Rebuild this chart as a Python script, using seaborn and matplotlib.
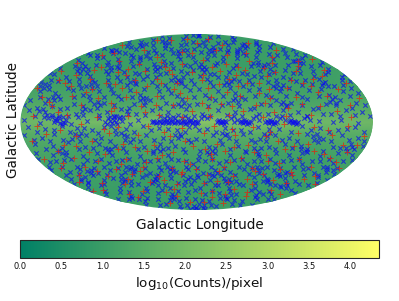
import numpy as np
import pandas as pd
import seaborn as sns
import matplotlib.pyplot as plt

# background map, log10 counts per pixel, read by eye
map_lon = [-180, -150, -120, -90, -60, -30, 0, 30, 60, 90, 120, 150, 180]
map_lat = [-90, -75, -60, -45, -30, -20, -10, -5, 0, 5, 10, 20, 30, 45, 60, 75, 90]
map_val = [
    [1.0, 1.0, 1.0, 1.0, 1.0, 1.0, 1.0, 1.0, 1.0, 1.0, 1.0, 1.0, 1.0],
    [1.0, 1.0, 1.0, 1.0, 1.0, 1.0, 1.0, 1.0, 1.0, 1.0, 1.0, 1.0, 1.0],
    [1.0, 1.0, 1.0, 1.0, 1.0, 1.1, 1.0, 1.0, 1.0, 1.0, 1.0, 1.0, 1.0],
    [1.1, 1.1, 1.1, 1.0, 1.0, 1.1, 1.1, 1.1, 1.0, 1.0, 1.0, 1.1, 1.1],
    [1.2, 1.2, 1.1, 1.1, 1.2, 1.2, 1.2, 1.2, 1.1, 1.1, 1.1, 1.1, 1.2],
    [1.3, 1.3, 1.2, 1.2, 1.3, 1.3, 1.3, 1.3, 1.3, 1.2, 1.2, 1.3, 1.3],
    [1.5, 1.5, 1.4, 1.4, 1.5, 1.6, 1.6, 1.6, 1.5, 1.5, 1.4, 1.5, 1.5],
    [1.7, 1.7, 1.7, 1.7, 1.8, 1.9, 1.9, 1.9, 1.9, 1.8, 1.7, 1.7, 1.7],
    [1.9, 1.9, 2.0, 2.0, 2.1, 2.2, 2.4, 2.2, 2.1, 2.0, 1.9, 1.9, 1.9],
    [1.7, 1.7, 1.7, 1.7, 1.8, 1.9, 1.9, 1.9, 1.8, 1.8, 1.7, 1.7, 1.7],
    [1.5, 1.5, 1.4, 1.4, 1.5, 1.6, 1.6, 1.6, 1.5, 1.5, 1.4, 1.5, 1.5],
    [1.3, 1.3, 1.2, 1.2, 1.3, 1.4, 1.4, 1.4, 1.3, 1.2, 1.2, 1.3, 1.3],
    [1.2, 1.1, 1.1, 1.1, 1.2, 1.2, 1.3, 1.2, 1.2, 1.1, 1.1, 1.1, 1.2],
    [1.1, 1.0, 1.0, 1.0, 1.1, 1.1, 1.1, 1.1, 1.0, 1.0, 1.0, 1.0, 1.1],
    [1.0, 1.0, 1.0, 1.0, 1.0, 1.0, 1.0, 1.0, 1.0, 1.0, 1.0, 1.0, 1.0],
    [1.0, 1.0, 1.0, 1.0, 1.0, 1.0, 1.0, 1.0, 1.0, 1.0, 1.0, 1.0, 1.0],
    [1.0, 1.0, 1.0, 1.0, 1.0, 1.0, 1.0, 1.0, 1.0, 1.0, 1.0, 1.0, 1.0],
]

# sources, (lon, lat) in degrees
blue_north = [
    (-150, 84), (-20, 86), (8, 85), (14, 86), (95, 84), (20, 87),
    (-170, 76), (-120, 78), (-75, 75), (-40, 79), (-10, 76), (30, 78), (70, 75), (110, 79), (150, 76),
    (-175, 68), (-140, 70), (-112, 67), (-90, 71), (-60, 68), (-33, 72), (-5, 67), (18, 70), (44, 67), (66, 71), (92, 68), (125, 70), (160, 67),
    (-178, 62), (-158, 60), (-130, 63), (-104, 60), (-82, 63), (-55, 60), (-38, 62), (-14, 60), (7, 63), (28, 60), (52, 63), (79, 60), (101, 63), (128, 60), (146, 62), (171, 60),
    (-172, 55), (-149, 57), (-125, 53), (-116, 56), (-93, 54), (-70, 57), (-47, 54), (-24, 56), (-2, 53), (15, 56), (38, 54), (60, 57), (86, 53), (113, 56), (137, 54), (158, 57), (176, 53),
    (-177, 47), (-162, 49), (-139, 46), (-121, 50), (-101, 47), (-85, 49), (-64, 46), (-42, 50), (-30, 47), (-9, 49), (12, 46), (25, 50), (47, 47), (72, 49), (94, 46), (106, 50), (133, 47), (152, 49), (169, 46),
    (-174, 41), (-155, 38), (-143, 42), (-127, 39), (-108, 41), (-94, 38), (-76, 42), (-59, 39), (-44, 41), (-26, 38), (-12, 42), (4, 39), (21, 41), (35, 38), (56, 42), (69, 39), (88, 41), (103, 38), (119, 42), (140, 39), (156, 41), (173, 38),
    (-179, 34), (-166, 31), (-147, 35), (-133, 32), (-117, 34), (-99, 31), (-88, 35), (-68, 32), (-51, 34), (-36, 31), (-18, 35), (-3, 32), (16, 34), (31, 31), (49, 35), (63, 32), (82, 34), (97, 31), (115, 35), (131, 32), (148, 34), (165, 31), (178, 35),
    (-171, 26), (-153, 24), (-136, 27), (-122, 23), (-106, 26), (-90, 24), (-73, 27), (-61, 23), (-41, 26), (-28, 24), (-7, 27), (9, 23), (24, 26), (42, 24), (58, 27), (75, 23), (91, 26), (109, 24), (124, 27), (143, 23), (160, 26), (175, 24),
    (-176, 18), (-159, 16), (-144, 19), (-128, 15), (-112, 18), (-97, 16), (-80, 19), (-65, 15), (-49, 18), (-32, 16), (-15, 19), (1, 15), (19, 18), (33, 16), (51, 19), (67, 15), (84, 18), (99, 16), (117, 19), (135, 15), (151, 18), (167, 16),
    (-173, 10), (-156, 8), (-141, 11), (-124, 7), (-110, 10), (-92, 8), (-78, 11), (-62, 7), (-46, 10), (-29, 8), (-11, 11), (6, 7), (22, 10), (40, 8), (55, 11), (73, 7), (89, 10), (104, 8), (121, 11), (138, 7), (154, 10), (170, 8),
]
blue_north_more = [
    (-100, 82), (-45, 84), (55, 83), (140, 83), (-135, 75), (-92, 77), (-24, 73), (15, 75), (49, 74), (92, 76), (132, 73), (178, 74),
    (-155, 66), (-128, 69), (-74, 65), (-48, 67), (-18, 66), (5, 72), (33, 69), (56, 65), (80, 67), (110, 65), (143, 69), (178, 67),
    (-168, 60), (-143, 58), (-118, 62), (-96, 58), (-66, 62), (-28, 59), (-6, 58), (18, 61), (41, 58), (65, 61), (90, 58), (117, 61), (138, 58), (160, 61),
    (-158, 52), (-135, 50), (-108, 52), (-80, 52), (-58, 51), (-36, 52), (-15, 50), (6, 51), (29, 52), (53, 50), (78, 52), (97, 51), (123, 50), (147, 52), (166, 50),
    (-180, 42), (-150, 44), (-135, 42), (-114, 44), (-90, 43), (-70, 41), (-52, 44), (-37, 42), (-20, 44), (-4, 45), (9, 43), (17, 41), (40, 43), (62, 41), (80, 44), (96, 43), (112, 45), (127, 42), (146, 44), (163, 43), (180, 41),
    (-170, 36), (-160, 35), (-138, 37), (-122, 36), (-103, 36), (-82, 38), (-63, 37), (-48, 38), (-30, 36), (-16, 38), (-6, 36), (12, 37), (26, 38), (44, 37), (61, 36), (76, 38), (93, 36), (110, 37), (127, 36), (144, 37), (170, 36),
    (-163, 28), (-143, 29), (-128, 29), (-111, 30), (-94, 28), (-78, 31), (-58, 28), (-44, 30), (-32, 28), (-13, 30), (3, 28), (18, 30), (37, 29), (52, 30), (69, 28), (86, 30), (103, 29), (119, 31), (137, 28), (154, 30), (172, 29),
    (-167, 21), (-148, 22), (-131, 21), (-115, 22), (-99, 21), (-84, 22), (-69, 21), (-54, 20), (-37, 21), (-21, 22), (-3, 21), (13, 20), (28, 22), (47, 21), (63, 22), (80, 21), (96, 22), (113, 21), (131, 22), (148, 21), (165, 22),
    (-180, 14), (-165, 12), (-150, 13), (-134, 12), (-118, 13), (-103, 12), (-86, 14), (-70, 12), (-55, 14), (-38, 12), (-24, 13), (-8, 14), (12, 13), (27, 14), (44, 13), (60, 12), (77, 14), (93, 13), (110, 14), (126, 12), (145, 14), (161, 12), (176, 14),
    (-166, 5), (-148, 6), (-132, 5), (-116, 6), (-100, 6), (-85, 5), (-70, 7), (-53, 6), (-37, 5), (-19, 6), (-3, 5), (14, 5), (31, 6), (47, 5), (64, 7), (81, 5), (96, 6), (113, 5), (130, 7), (147, 5), (163, 6), (178, 5),
]
blue_north_clumps = [
    (-118, 71), (-113, 73), (-109, 70), (-68, 72), (-64, 74), (23, 66), (27, 64), (31, 66), (97, 72), (102, 70), (106, 73),
    (-145, 64), (-141, 65), (-137, 62), (-86, 58), (-83, 56), (-79, 59), (-31, 64), (-28, 62), (-25, 66), (68, 63), (72, 65), (76, 62),
    (-152, 47), (-148, 49), (-145, 46), (-112, 48), (-108, 45), (-105, 48), (-55, 48), (-51, 46), (-48, 48), (3, 48), (7, 46), (10, 48), (83, 50), (87, 48), (91, 50), (140, 54), (143, 52), (147, 55),
    (-175, 30), (-172, 32), (-169, 29), (-124, 30), (-120, 32), (-116, 29), (-76, 34), (-73, 36), (-70, 33), (-24, 34), (-21, 36), (-18, 33), (34, 34), (37, 32), (40, 35), (88, 29), (91, 32), (94, 29), (141, 31), (144, 33), (147, 30),
    (-157, 19), (-153, 21), (-150, 18), (-107, 15), (-104, 17), (-101, 14), (-60, 18), (-57, 20), (-54, 17), (-19, 15), (-16, 13), (-13, 16), (38, 18), (41, 20), (44, 17), (88, 15), (91, 17), (94, 14), (140, 17), (143, 19), (146, 16),
    (-162, 9), (-159, 11), (-156, 4), (-153, 6), (-121, 4), (-118, 9), (-115, 11), (-75, 4), (-72, 9), (-33, 3), (-30, 5), (-27, 3), (-24, 4), (-15, 3), (-12, 5), (-9, 3), (5, 3), (8, 5), (11, 3), (35, 3), (38, 5), (41, 2), (58, 3), (61, 5), (64, 2), (85, 3), (88, 5), (91, 2), (110, 3), (113, 5), (116, 2), (-148, 4), (-144, 3), (-141, 5), (-137, 4),
]
blue_plane = [
    (-176, 2), (-160, -1), (-152, 3), (-146, 0), (-143, 1), (-140, -1), (-137, 0), (-134, 2), (-128, -2), (-112, 1), (-100, 3),
    (-94, 0), (-91, 3), (-88, 1), (-86, -1), (-84, 2), (-82, 0), (-79, 3), (-76, 1), (-68, -2), (-60, 2),
    (-46, 0), (-43, 0), (-40, 0), (-37, 0), (-34, 0), (-31, 0), (-28, 0), (-25, 0), (-22, 0), (-19, 0), (-16, 0), (-13, 0), (-10, 0), (-7, 0), (-4, 0), (-1, 0), (2, 0), (-30, 2), (-12, -2), (-6, 2),
    (21, 0), (24, 0), (27, 0), (30, 0), (23, 2), (28, -2), (26, 1), (38, 0), (44, 0), (47, 0), (50, 0), (53, 0), (56, 0), (49, 2), (52, -2), (70, 0), (73, 0), (76, 0), (79, 0), (82, 0), (75, 2), (78, -2),
    (95, 0), (98, 0), (101, 0), (104, 0), (97, 2), (102, -2), (125, 1), (140, 0), (148, 2), (165, -1), (-22, 3), (-2, -3),
    (-45, 1), (-41, -1), (-38, 1), (-35, -1), (-33, 1), (-29, -1), (-26, 1), (-23, -1), (-20, 1), (-17, -1), (-14, 1), (-11, -1), (-8, 1), (-5, -1), (-2, 1), (1, -1),
    (22, 1), (25, -1), (29, 1), (46, 1), (48, -1), (51, 1), (54, -1), (72, 1), (74, -1), (77, 1), (80, -1), (96, 1), (99, -1), (100, 1), (103, -1),
    (-145, 2), (-141, 3), (-138, -2), (-135, -1), (-92, -2), (-89, 4), (-85, 4), (-81, -2), (-78, 4), (-83, 5), (-88, -3),
]
blue_south = [
    (-173, -4), (-155, -6), (-138, -3), (-122, -5), (-107, -7), (-95, -4), (-72, -6), (-55, -3), (-38, -5), (-20, -7), (-8, -4), (11, -6), (29, -5), (46, -7), (63, -4), (85, -6), (108, -3), (127, -5), (145, -7), (162, -4),
    (-178, -11), (-161, -13), (-147, -10), (-130, -14), (-114, -11), (-99, -13), (-83, -10), (-66, -14), (-52, -11), (-35, -13), (-17, -10), (-1, -14), (17, -11), (34, -13), (48, -10), (66, -14), (81, -11), (96, -13), (114, -10), (132, -14), (150, -11), (168, -13),
    (-170, -18), (-152, -20), (-135, -17), (-119, -21), (-103, -18), (-87, -20), (-70, -17), (-56, -21), (-39, -18), (-23, -20), (-6, -17), (13, -21), (27, -18), (44, -20), (61, -17), (77, -21), (93, -18), (111, -20), (128, -17), (146, -21), (163, -18), (177, -20),
    (-175, -26), (-158, -28), (-142, -25), (-126, -29), (-109, -26), (-93, -28), (-77, -25), (-63, -29), (-48, -26), (-31, -28), (-13, -25), (3, -29), (20, -26), (37, -28), (54, -25), (70, -29), (87, -26), (102, -28), (120, -25), (137, -29), (155, -26), (172, -28),
    (-168, -34), (-150, -32), (-132, -36), (-116, -33), (-101, -35), (-84, -32), (-69, -36), (-53, -33), (-37, -35), (-21, -32), (-4, -36), (10, -33), (26, -35), (43, -32), (59, -36), (74, -33), (91, -35), (107, -32), (123, -36), (141, -33), (158, -35), (176, -32),
    (-177, -41), (-157, -43), (-140, -40), (-124, -44), (-105, -41), (-89, -43), (-74, -40), (-58, -44), (-43, -41), (-25, -43), (-10, -40), (8, -44), (23, -41), (41, -43), (57, -40), (78, -44), (94, -41), (112, -43), (129, -40), (147, -44), (166, -41),
    (-169, -50), (-146, -48), (-127, -51), (-111, -49), (-91, -52), (-72, -48), (-54, -51), (-34, -49), (-16, -52), (2, -48), (19, -51), (36, -49), (55, -52), (76, -48), (98, -51), (118, -49), (136, -52), (159, -48), (178, -51),
    (-165, -58), (-141, -56), (-118, -59), (-96, -56), (-79, -59), (-57, -56), (-41, -59), (-19, -56), (5, -59), (32, -56), (50, -59), (68, -56), (90, -59), (116, -56), (139, -59), (164, -56),
    (-160, -65), (-129, -63), (-98, -66), (-67, -64), (-45, -66), (-15, -63), (16, -66), (39, -64), (71, -66), (105, -63), (134, -66), (170, -64),
    (-145, -72), (-100, -70), (-60, -73), (-22, -70), (12, -73), (48, -70), (83, -73), (126, -71), (168, -72),
    (-150, -79), (-85, -78), (-30, -80), (6, -78), (45, -80), (100, -78), (175, -80),
    (-40, -86), (-4, -85), (10, -87), (30, -85),
]
blue_south_more = [
    (-164, -8), (-146, -7), (-130, -8), (-115, -5), (-101, -9), (-84, -7), (-64, -8), (-47, -7), (-29, -6), (-12, -8), (3, -7), (20, -8), (38, -7), (55, -8), (74, -6), (97, -8), (118, -7), (136, -8), (154, -6), (172, -8),
    (-170, -15), (-154, -16), (-139, -15), (-122, -16), (-106, -15), (-91, -16), (-75, -15), (-59, -16), (-44, -15), (-27, -16), (-9, -15), (8, -16), (25, -15), (41, -16), (57, -15), (73, -16), (89, -15), (105, -16), (123, -15), (141, -16), (159, -15), (176, -16),
    (-162, -23), (-144, -22), (-127, -23), (-111, -22), (-95, -23), (-79, -22), (-63, -23), (-47, -24), (-31, -22), (-15, -23), (4, -24), (20, -22), (36, -23), (52, -24), (69, -22), (85, -23), (102, -22), (119, -23), (137, -24), (154, -22), (170, -23),
    (-178, -31), (-160, -33), (-141, -31), (-124, -32), (-108, -31), (-92, -33), (-76, -31), (-60, -33), (-44, -32), (-29, -31), (-12, -33), (2, -32), (18, -31), (34, -33), (51, -31), (66, -33), (83, -31), (99, -33), (115, -31), (132, -33), (149, -31), (167, -33),
    (-175, -38), (-159, -38), (-142, -38), (-123, -39), (-110, -38), (-94, -39), (-78, -38), (-61, -39), (-45, -38), (-29, -39), (-13, -38), (1, -39), (17, -38), (33, -39), (50, -38), (66, -39), (83, -38), (100, -39), (116, -38), (133, -39), (150, -38), (168, -39),
    (-167, -46), (-149, -45), (-133, -46), (-115, -46), (-97, -46), (-81, -45), (-65, -46), (-49, -46), (-33, -45), (-17, -46), (0, -46), (16, -45), (32, -46), (49, -46), (67, -45), (86, -46), (103, -46), (120, -45), (138, -46), (156, -46), (175, -45),
    (-177, -55), (-155, -54), (-134, -55), (-106, -54), (-84, -55), (-63, -54), (-46, -56), (-27, -54), (-8, -55), (12, -54), (27, -56), (43, -54), (62, -55), (83, -54), (107, -55), (127, -54), (149, -55), (172, -54),
    (-178, -63), (-150, -62), (-113, -63), (-82, -62), (-56, -61), (-30, -62), (-2, -61), (25, -62), (55, -62), (88, -61), (120, -62), (152, -61),
    (-170, -72), (-120, -74), (-80, -71), (-40, -74), (-4, -71), (30, -74), (66, -72), (105, -74), (148, -71),
    (-115, -80), (-58, -82), (-10, -82), (25, -80), (72, -82), (135, -80),
    (-20, -88), (50, -86), (-90, -86),
]
blue_south_clumps = [
    (-125, -10), (-122, -12), (-119, -9), (-78, -9), (-75, -11), (-72, -12), (-22, -11), (-19, -13), (-16, -12), (26, -9), (29, -11), (32, -10), (70, -10), (73, -12), (76, -9), (121, -12), (124, -10), (127, -13),
    (-150, -24), (-147, -26), (-144, -28), (-98, -22), (-95, -25), (-92, -23), (-42, -22), (-39, -24), (-36, -23), (11, -25), (14, -27), (17, -24), (62, -22), (65, -24), (68, -27), (112, -23), (115, -26), (118, -24), (160, -22), (163, -24), (166, -21),
    (-135, -42), (-132, -44), (-129, -41), (-83, -38), (-80, -40), (-77, -42), (-35, -38), (-32, -40), (-29, -42), (20, -46), (23, -47), (26, -44), (72, -38), (75, -41), (78, -39), (105, -45), (108, -47), (111, -44), (155, -38), (158, -40), (161, -43),
    (-160, -52), (-156, -50), (-152, -53), (-102, -50), (-99, -52), (-96, -50), (-60, -52), (-56, -50), (-53, -47), (-12, -50), (-8, -48), (-4, -51), (40, -52), (44, -50), (48, -53), (92, -52), (95, -50), (99, -53), (125, -57), (129, -58), (133, -56),
    (-130, -70), (-125, -68), (-120, -71), (-50, -69), (-46, -71), (-42, -68), (55, -68), (60, -70), (64, -67), (110, -67), (115, -69), (120, -66),
]
red_north = [
    (-160, 72), (-70, 78), (0, 74), (55, 72), (120, 74), (-135, 62), (-95, 66), (-25, 63), (35, 66), (82, 62), (140, 65),
    (-165, 52), (-110, 54), (-78, 51), (-50, 53), (-20, 51), (10, 55), (40, 51), (75, 54), (105, 52), (145, 54),
    (-170, 44), (-130, 45), (-98, 43), (-65, 44), (-35, 45), (-5, 43), (30, 44), (62, 45), (98, 43), (125, 44), (162, 45),
    (-160, 36), (-125, 37), (-103, 33), (-72, 36), (-47, 37), (-22, 33), (6, 36), (38, 37), (71, 33), (110, 36), (137, 37), (170, 33),
    (-177, 29), (-140, 30), (-115, 28), (-83, 29), (-55, 30), (-25, 28), (13, 29), (46, 30), (80, 28), (101, 29), (128, 30), (156, 28),
    (-165, 21), (-133, 22), (-105, 20), (-75, 21), (-42, 22), (-10, 20), (15, 21), (47, 22), (78, 20), (106, 21), (140, 22), (173, 20),
    (-150, 13), (-120, 14), (-86, 12), (-58, 13), (-24, 14), (12, 12), (37, 13), (62, 14), (95, 12), (128, 13), (160, 14),
    (-168, 5), (-133, 6), (-102, 4), (-70, 5), (-38, 6), (-15, 4), (14, 5), (33, 6), (68, 4), (92, 5), (118, 6), (158, 4),
    (-110, 78), (-30, 80), (35, 80), (-150, 60), (-60, 58), (-8, 62), (48, 60), (115, 58), (170, 56), (-125, 48), (-88, 46), (-42, 48), (20, 48), (55, 48), (88, 47), (135, 49),
    (-145, 40), (-85, 40), (-30, 41), (8, 40), (48, 40), (84, 39), (150, 39), (-150, 33), (-92, 32), (-40, 33), (25, 32), (58, 33), (122, 33), (-120, 25), (-66, 25), (-18, 24), (33, 25), (68, 24), (132, 25),
    (-155, 17), (-90, 16), (-42, 14), (6, 16), (26, 15), (72, 16), (110, 15), (-142, 8), (-88, 9), (-53, 8), (-5, 9), (48, 9), (80, 8), (145, 9),
]
red_south = [
    (-163, -3), (-118, -2), (-80, -4), (-50, -3), (-15, -5), (18, -3), (58, -4), (90, -2), (120, -4), (155, -3),
    (-155, -10), (-125, -12), (-90, -9), (-60, -11), (-27, -12), (8, -9), (40, -11), (72, -12), (105, -9), (140, -11), (174, -12),
    (-172, -16), (-140, -19), (-110, -16), (-78, -18), (-45, -19), (-12, -16), (22, -18), (54, -19), (85, -16), (118, -18), (155, -19),
    (-150, -24), (-117, -25), (-85, -23), (-54, -24), (-26, -25), (9, -23), (31, -24), (63, -25), (95, -23), (127, -24), (164, -25),
    (-172, -31), (-137, -30), (-112, -33), (-79, -31), (-44, -30), (-14, -33), (17, -31), (50, -30), (82, -33), (115, -31), (149, -30),
    (-162, -39), (-132, -38), (-97, -40), (-64, -38), (-29, -39), (-1, -40), (33, -38), (66, -39), (101, -40), (136, -38), (171, -39),
    (-151, -46), (-115, -47), (-82, -45), (-49, -47), (-20, -45), (14, -46), (48, -47), (85, -45), (123, -46), (154, -47),
    (-135, -54), (-104, -55), (-65, -53), (-28, -55), (10, -54), (44, -53), (80, -55), (128, -54), (172, -55),
    (-150, -61), (-88, -62), (-35, -60), (25, -62), (60, -60), (120, -61),
    (-115, -69), (-38, -68), (30, -69), (95, -68), (-70, -77), (20, -76),
    (-140, -7), (-95, -6), (-33, -8), (36, -6), (76, -8), (135, -7), (-128, -20), (-66, -21), (-4, -20), (40, -21), (104, -20), (170, -19), (-100, -27), (-38, -28), (16, -27), (77, -28), (140, -27),
    (-155, -35), (-88, -36), (-58, -34), (-8, -36), (38, -34), (96, -35), (160, -34), (-122, -42), (-70, -42), (-18, -43), (28, -42), (72, -42), (118, -43), (-165, -53), (-92, -50), (-44, -51), (28, -52), (68, -50), (104, -51), (145, -50),
    (-118, -65), (-52, -63), (8, -64), (50, -65), (85, -63), (150, -66), (-170, -62), (-15, -75), (70, -77),
]

lon_grid, lat_grid = np.meshgrid(np.radians(map_lon), np.radians(map_lat))
blue = pd.DataFrame(blue_north + blue_north_more + blue_north_clumps + blue_plane
                    + blue_south + blue_south_more + blue_south_clumps, columns=['lon', 'lat'])
red = pd.DataFrame(red_north + red_south, columns=['lon', 'lat'])

sns.set_style('white')
fig = plt.figure(figsize=(3.99, 3.01), dpi=100)
ax = fig.add_axes([20 / 399, 91 / 301, 353 / 399, 176 / 301], projection='mollweide')
ax.set_facecolor('#3f9f68')
mesh = ax.pcolormesh(lon_grid, lat_grid, np.array(map_val), cmap='summer',
                     vmin=0, vmax=4.35, shading='gouraud')
sns.scatterplot(x=np.radians(blue['lon']), y=np.radians(blue['lat']), ax=ax, marker='x',
                color='#0a0af0', s=10, linewidth=0.8, alpha=0.7, legend=False)
sns.scatterplot(x=np.radians(red['lon']), y=np.radians(red['lat']), ax=ax, marker='+',
                color='#e8200a', s=13, linewidth=0.7, alpha=0.7, legend=False)
ax.grid(False)
ax.set_xticklabels([])
ax.set_yticklabels([])
ax.set_xlabel('')
ax.set_ylabel('')
for s in ax.spines.values():
    s.set_visible(False)

fig.text(200 / 399, 1 - 225 / 301, 'Galactic Longitude', ha='center', va='center', fontsize=9.8, color='#111111')
fig.text(13 / 399, 1 - 120 / 301, 'Galactic Latitude', ha='center', va='center',
         rotation=90, fontsize=9.8, color='#111111')

cax = fig.add_axes([20 / 399, 43 / 301, 359 / 399, 18 / 301])
cbar = fig.colorbar(mesh, cax=cax, orientation='horizontal')
cbar.set_ticks([0, 0.5, 1, 1.5, 2, 2.5, 3, 3.5, 4])
cbar.set_ticklabels(['0.0', '0.5', '1.0', '1.5', '2.0', '2.5', '3.0', '3.5', '4.0'])
cax.tick_params(axis='x', labelsize=6, length=2, width=0.5, direction='in', top=True, bottom=True, pad=3, labelcolor='#111111')
cbar.outline.set_linewidth(0.8)
cbar.set_label(r'log$_{10}$(Counts)/pixel', fontsize=9.7, labelpad=3, color='#111111')

fig.savefig('out.png', dpi=100)
